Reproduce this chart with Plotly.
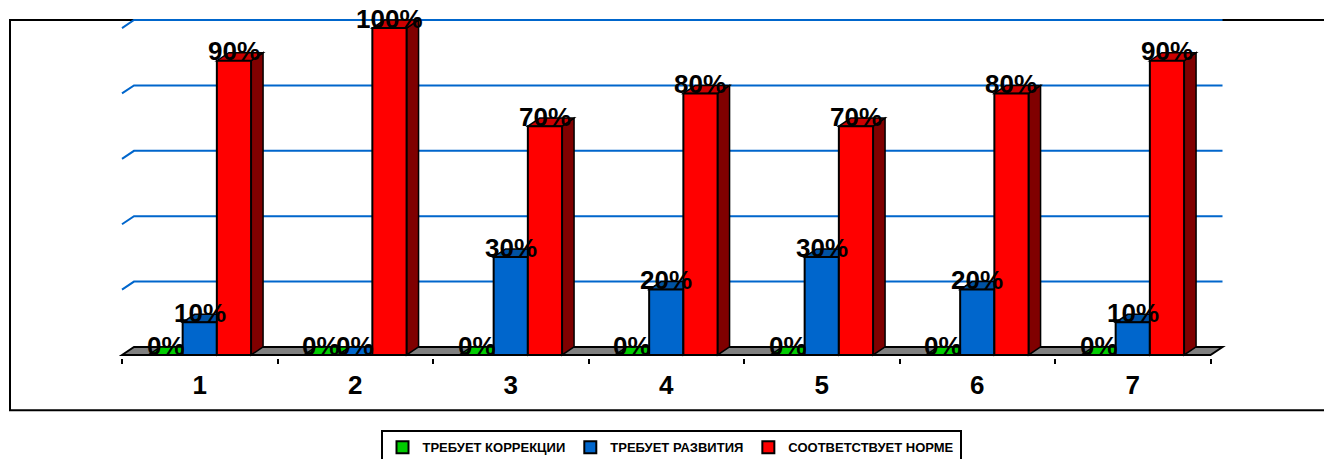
import plotly.graph_objects as go

# ---------------- data ----------------
categories = [1, 2, 3, 4, 5, 6, 7]
tick_labels = ["1", "2", "3", "4", "5", "6", "7"]
series_names = ["ТРЕБУЕТ КОРРЕКЦИИ", "ТРЕБУЕТ РАЗВИТИЯ", "СООТВЕТСТВУЕТ НОРМЕ"]
correction = [0, 0, 0, 0, 0, 0, 0]
development = [10, 0, 30, 20, 30, 20, 10]
norm = [90, 100, 70, 80, 70, 80, 90]
grid_values = [20, 40, 60, 80, 100]

# ---------------- style ----------------
front_colors = ["#00CC00", "#0066CC", "#FF0000"]
top_colors = ["#00A000", "#0052A3", "#CC0000"]
side_colors = ["#006600", "#003366", "#800000"]
FONT = "Arial, Liberation Sans, sans-serif"

W, H = 1324, 475
K = H / 459.0        # vertical design scale (design coordinates are in a 459-high frame)
CAT0_PX = 122.0      # pixel of left edge of first category
CAT_PX = 155.5       # pixels per category
LEFT_PX, RIGHT_PX = 112.0, 1236.0
BASE_PX = 354.0 * K  # pixel of value 0
PX_PER_Y = 3.26 * K
TOP_PX, BOTTOM_PX = 10.0 * K, 357.0 * K
DEPTH_X_PX, DEPTH_Y_PX = 12.0, 8.0 * K
BARGAP = 0.34

x_range = [0.5 - (CAT0_PX - LEFT_PX) / CAT_PX, 0.5 + (RIGHT_PX - CAT0_PX) / CAT_PX]
y_range = [-(BOTTOM_PX - BASE_PX) / PX_PER_Y, (BASE_PX - TOP_PX) / PX_PER_Y]
dx = DEPTH_X_PX / CAT_PX
dy = DEPTH_Y_PX / PX_PER_Y
bw = (1 - BARGAP) / 3
plot_w = RIGHT_PX - LEFT_PX
plot_h = BOTTOM_PX - TOP_PX


def paper_x(px):
    return (px - LEFT_PX) / plot_w


def paper_y(py):
    return (BOTTOM_PX - py * K) / plot_h


series_values = [correction, development, norm]

fig = go.Figure()
for k, (name, vals) in enumerate(zip(series_names, series_values)):
    fig.add_trace(go.Bar(
        x=categories, y=vals, name=name,
        marker=dict(color=front_colors[k], line=dict(color="black", width=2)),
        hoverinfo="skip",
    ))

shapes = []
# outer chart border
shapes.append(dict(type="rect", xref="paper", yref="paper",
                   x0=paper_x(10), x1=paper_x(1345), y0=paper_y(409), y1=paper_y(20),
                   line=dict(color="black", width=2), fillcolor="rgba(0,0,0,0)", layer="below"))
# back-wall gridlines
x_first, x_last = categories[0] - 0.5, categories[-1] + 0.5
for v in grid_values:
    shapes.append(dict(type="path", xref="x", yref="y", layer="below",
                       path=f"M{x_first},{v} L{x_first+dx},{v+dy} L{x_last+dx},{v+dy}",
                       line=dict(color="#0066CC", width=2)))
# floor
shapes.append(dict(type="path", xref="x", yref="y", layer="below",
                   path=f"M{x_first},0 L{x_first+dx},{dy} L{x_last+dx},{dy} L{x_last},0 Z",
                   fillcolor="#808080", line=dict(color="black", width=2)))

annotations = []
for i, c in enumerate(categories):
    for k, vals in enumerate(series_values):
        v = vals[i]
        xc = c + (k - 1) * bw
        left, right = xc - bw / 2, xc + bw / 2
        # side face
        if v > 0:
            shapes.append(dict(type="path", xref="x", yref="y", layer="below",
                               path=f"M{right},0 L{right},{v} L{right+dx},{v+dy} L{right+dx},{dy} Z",
                               fillcolor=side_colors[k], line=dict(color="black", width=1.5)))
        # top face
        shapes.append(dict(type="path", xref="x", yref="y", layer="below",
                           path=f"M{left},{v} L{left+dx},{v+dy} L{right+dx},{v+dy} L{right},{v} Z",
                           fillcolor=top_colors[k] if v > 0 else front_colors[k],
                           line=dict(color="black", width=1.5)))

for i, c in enumerate(categories):
    for k, vals in enumerate(series_values):
        v = vals[i]
        xc = c + (k - 1) * bw
        annotations.append(dict(x=xc, y=v, xref="x", yref="y", text=f"{v}%", showarrow=False,
                                yanchor="middle", yshift=9 * K,
                                font=dict(family=FONT, size=26, color="black", weight="bold")))

fig.update_layout(
    width=W, height=H,
    margin=dict(l=LEFT_PX, r=W - RIGHT_PX, t=TOP_PX, b=H - BOTTOM_PX, pad=0),
    paper_bgcolor="white", plot_bgcolor="rgba(0,0,0,0)",
    barmode="group", bargap=BARGAP, bargroupgap=0,
    shapes=shapes, annotations=annotations,
    showlegend=True,
    legend=dict(orientation="h", x=paper_x(671), xanchor="center", y=paper_y(429), yanchor="top",
                bordercolor="black", borderwidth=2, bgcolor="white",
                font=dict(family=FONT, size=13, color="black", weight="bold"),
                itemwidth=30, tracegroupgap=0),
    xaxis=dict(range=x_range, showgrid=False, zeroline=False, showline=False,
               tickmode="array", tickvals=categories, ticktext=tick_labels, ticks="",
               ticklabelstandoff=9,
               tickfont=dict(family=FONT, size=26, color="black", weight="bold"),
               minor=dict(ticks="outside", tick0=0.5, dtick=1, ticklen=5, tickwidth=2,
                          tickcolor="black", showgrid=False)),
    yaxis=dict(range=y_range, visible=False, showgrid=False, zeroline=False),
)

PAGE_CSS_JS = (
    "var s=document.createElement('style');"
    "s.textContent='html,body{margin:0;padding:0;overflow:hidden;}';"
    "document.head.appendChild(s);"
)

fig.write_html("out.html", config={"displayModeBar": False, "staticPlot": True},
               post_script=PAGE_CSS_JS)
